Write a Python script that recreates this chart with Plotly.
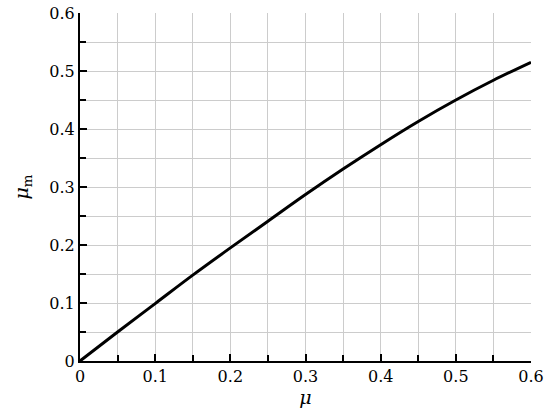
import plotly.graph_objects as go

mu = [0.0, 0.05, 0.1, 0.15, 0.2, 0.25, 0.3, 0.35, 0.4, 0.45, 0.5, 0.55, 0.6]
mu_m = [0.0, 0.050, 0.099, 0.148, 0.195, 0.241, 0.287, 0.331, 0.373, 0.413, 0.450, 0.484, 0.515]

font = "DejaVu Serif"

fig = go.Figure()
fig.add_trace(go.Scatter(x=mu, y=mu_m, mode="lines", line=dict(color="black", width=3), line_shape="spline"))

axis_common = dict(
    range=[0, 0.6], dtick=0.1, tick0=0, automargin=False,
    showgrid=True, gridcolor="#cccccc", gridwidth=1,
    ticks="inside", ticklen=7, tickwidth=2, tickcolor="black",
    showline=True, linecolor="black", linewidth=2,
    zeroline=False,
    tickfont=dict(family=font, size=16, color="black"),
    minor=dict(dtick=0.05, showgrid=True, gridcolor="#cccccc", gridwidth=1,
               ticks="inside", ticklen=6, tickwidth=2, tickcolor="black"),
)

fig.update_xaxes(**axis_common, title=dict(text="<i>μ</i>", font=dict(family=font, size=19, color="black"), standoff=2))
fig.update_yaxes(**axis_common, title=dict(text="<i>μ</i><sub>m</sub>", font=dict(family=font, size=19, color="black"), standoff=16))

fig.update_layout(
    width=544, height=408,
    margin=dict(l=80, r=13, t=13, b=47),
    plot_bgcolor="white", paper_bgcolor="white",
    showlegend=False,
    font=dict(family=font),
)

fig.write_html("out.html", config={"displayModeBar": False}, post_script="document.body.style.margin='0';")
